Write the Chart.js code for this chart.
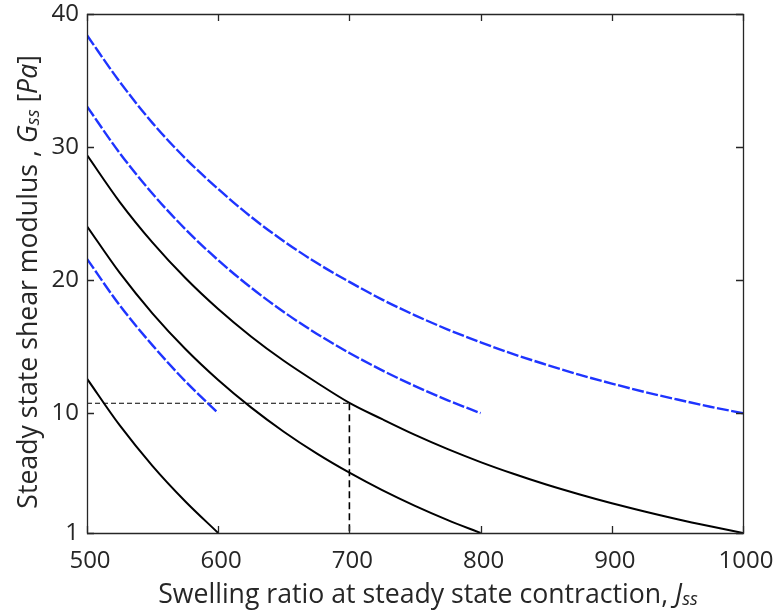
<!DOCTYPE html>
<html>
<head>
<meta charset="utf-8">
<script src="https://cdn.jsdelivr.net/npm/chart.js@4.4.0/dist/chart.umd.min.js"></script>
<style>
  html, body { margin: 0; padding: 0; background: #ffffff; }
  #wrap { width: 773px; height: 613px; position: relative; }
</style>
</head>
<body>
<div id="wrap"><canvas id="c" width="773" height="613"></canvas></div>
<script>
// ---- data ----
const jLong = [500, 525, 550, 575, 600, 625, 650, 675, 700, 725, 750,
               775, 800, 825, 850, 875, 900, 925, 950, 975, 1000];
const jMid  = [500, 525, 550, 575, 600, 625, 650, 675, 700, 725, 750, 775, 800];
const jShort = [500, 525, 550, 575, 600];

const blueUpper   = [38.4, 34.9, 31.8, 29.15, 26.85, 24.76, 22.93, 21.3, 19.87, 18.54, 17.36,
                     16.29, 15.33, 14.44, 13.65, 12.9, 12.23, 11.6, 11.03, 10.49, 10.0];
const blueMiddle  = [33.05, 29.54, 26.49, 23.83, 21.5, 19.44, 17.61, 15.98, 14.53, 13.22,
                     12.04, 10.97, 10.0];
const blueLower   = [21.6, 18.1, 15.1, 12.4, 10.0];
const blackUpper  = [29.4, 25.87, 22.82, 20.16, 17.83, 15.77, 13.94, 12.31, 10.78, 9.55, 8.37,
                     7.3, 6.33, 5.45, 4.64, 3.91, 3.23, 2.61, 2.03, 1.5, 1.0];
const blackMiddle = [24.05, 20.54, 17.49, 14.83, 12.5, 10.44, 8.61, 6.98, 5.53, 4.22,
                     3.04, 1.97, 1.0];
const blackLower  = [12.6, 9.08, 6.03, 3.37, 1.0];

const guideHJ = [500, 700];
const guideHG = [10.75, 10.75];
const guideVJ = [700, 700];
const guideVG = [10.75, 1];

const xTickValues = [500, 600, 700, 800, 900, 1000];
const yTickValues = [1, 10, 20, 30, 40];

const xTitleParts = [
  { t: 'Swelling ratio at steady state contraction, ' },
  { t: 'J', italic: true },
  { t: 'ss', italic: true, small: true }
];
const yTitleParts = [
  { t: 'Steady state shear modulus , ' },
  { t: 'G', italic: true },
  { t: 'ss', italic: true, small: true },
  { t: ' [' },
  { t: 'Pa', italic: true },
  { t: ']' }
];

// ---- helpers ----
function pts(xs, ys) { return xs.map((x, i) => ({ x: x, y: ys[i] })); }

const BLUE = 'rgb(30, 52, 255)';
const AXIS = '#262626';
const FONT = "'Open Sans', 'Noto Sans', sans-serif";

function blueSet(xs, ys) {
  return { data: pts(xs, ys), borderColor: BLUE, borderWidth: 2.4,
           borderDash: [12, 2.5], pointRadius: 0, showLine: true,
           cubicInterpolationMode: 'monotone', fill: false };
}
function blackSet(xs, ys) {
  return { data: pts(xs, ys), borderColor: '#000000', borderWidth: 2,
           pointRadius: 0, showLine: true,
           cubicInterpolationMode: 'monotone', fill: false };
}

function fontStr(p, size) {
  return (p.italic ? 'italic ' : '') + (p.small ? size * 0.68 : size) + 'px ' + FONT;
}
function titleSize(ctx, parts, targetWidth) {
  let w20 = 0;
  parts.forEach(p => { ctx.font = fontStr(p, 20); w20 += ctx.measureText(p.t).width; });
  return 20 * targetWidth / w20;
}
// draws rich text; (bx, by) is the baseline point where the text starts (align 'start')
function drawRich(ctx, parts, size, bx, by, rot, align) {
  let total = 0;
  const widths = parts.map(p => { ctx.font = fontStr(p, size); const w = ctx.measureText(p.t).width; total += w; return w; });
  ctx.save();
  ctx.translate(bx, by);
  ctx.rotate(rot);
  ctx.fillStyle = '#262626';
  ctx.textBaseline = 'alphabetic';
  ctx.textAlign = 'left';
  let x = align === 'center' ? -total / 2 : (align === 'end' ? -total : 0);
  parts.forEach((p, i) => {
    ctx.font = fontStr(p, size);
    ctx.fillText(p.t, x, p.small ? size * 0.06 : 0);
    x += widths[i];
  });
  ctx.restore();
}

const framePlugin = {
  id: 'frame',
  afterDatasetsDraw(chart) {
    const ctx = chart.ctx;
    const a = chart.chartArea;
    const xs = chart.scales.x, ys = chart.scales.y;
    ctx.save();
    ctx.strokeStyle = AXIS;
    ctx.lineWidth = 1.3;
    ctx.beginPath();
    ctx.rect(Math.round(a.left) + 0.5, Math.round(a.top) + 0.5,
             Math.round(a.right - a.left), Math.round(a.bottom - a.top));
    ctx.stroke();
    const tl = 7;
    ctx.beginPath();
    xTickValues.forEach(v => {
      const px = Math.round(xs.getPixelForValue(v)) + 0.5;
      ctx.moveTo(px, a.bottom); ctx.lineTo(px, a.bottom - tl);
      ctx.moveTo(px, a.top); ctx.lineTo(px, a.top + tl);
    });
    yTickValues.forEach(v => {
      const py = Math.round(ys.getPixelForValue(v)) + 0.5;
      ctx.moveTo(a.left, py); ctx.lineTo(a.left + tl, py);
      ctx.moveTo(a.right, py); ctx.lineTo(a.right - tl, py);
    });
    ctx.stroke();
    ctx.restore();
  },
  afterDraw(chart) {
    const ctx = chart.ctx;
    const size = titleSize(ctx, xTitleParts, 540);
    drawRich(ctx, xTitleParts, size, 428, 603, 0, 'center');
    // y title: reads bottom-to-top, its end sits at y = 55, baseline at x = 37
    drawRich(ctx, yTitleParts, size, 37, 55, -Math.PI / 2, 'end');
  }
};

new Chart(document.getElementById('c'), {
  type: 'scatter',
  data: {
    datasets: [
      blueSet(jLong, blueUpper),
      blueSet(jMid, blueMiddle),
      blueSet(jShort, blueLower),
      blackSet(jLong, blackUpper),
      blackSet(jMid, blackMiddle),
      blackSet(jShort, blackLower),
      { data: pts(guideHJ, guideHG), borderColor: '#000000', borderWidth: 1,
        borderDash: [5, 3], pointRadius: 0, showLine: true, fill: false },
      { data: pts(guideVJ, guideVG), borderColor: '#000000', borderWidth: 1.6,
        borderDash: [7, 4], pointRadius: 0, showLine: true, fill: false }
    ]
  },
  options: {
    responsive: false,
    animation: false,
    layout: { padding: { left: 0, right: 30, top: 14, bottom: 0 } },
    plugins: { legend: { display: false }, tooltip: { enabled: false } },
    scales: {
      x: {
        type: 'linear', min: 500, max: 1000,
        grid: { display: false, drawTicks: false },
        border: { display: false },
        afterBuildTicks(s) { s.ticks = xTickValues.map(v => ({ value: v })); },
        afterFit(s) { s.height = 80; s.paddingLeft = 0; s.paddingRight = 0; },
        ticks: { color: '#262626', padding: 14, maxRotation: 0, labelOffset: 3,
                 callback: v => String(v),
                 font: { family: FONT, size: 24 } }
      },
      y: {
        type: 'linear', min: 1, max: 40,
        grid: { display: false, drawTicks: false },
        border: { display: false },
        afterBuildTicks(s) { s.ticks = yTickValues.map(v => ({ value: v })); },
        afterFit(s) { s.width = 87; s.paddingTop = 0; s.paddingBottom = 0; },
        ticks: { color: '#262626', padding: 8,
                 callback: v => String(v),
                 font: { family: FONT, size: 24 } }
      }
    }
  },
  plugins: [framePlugin]
});
</script>
</body>
</html>
